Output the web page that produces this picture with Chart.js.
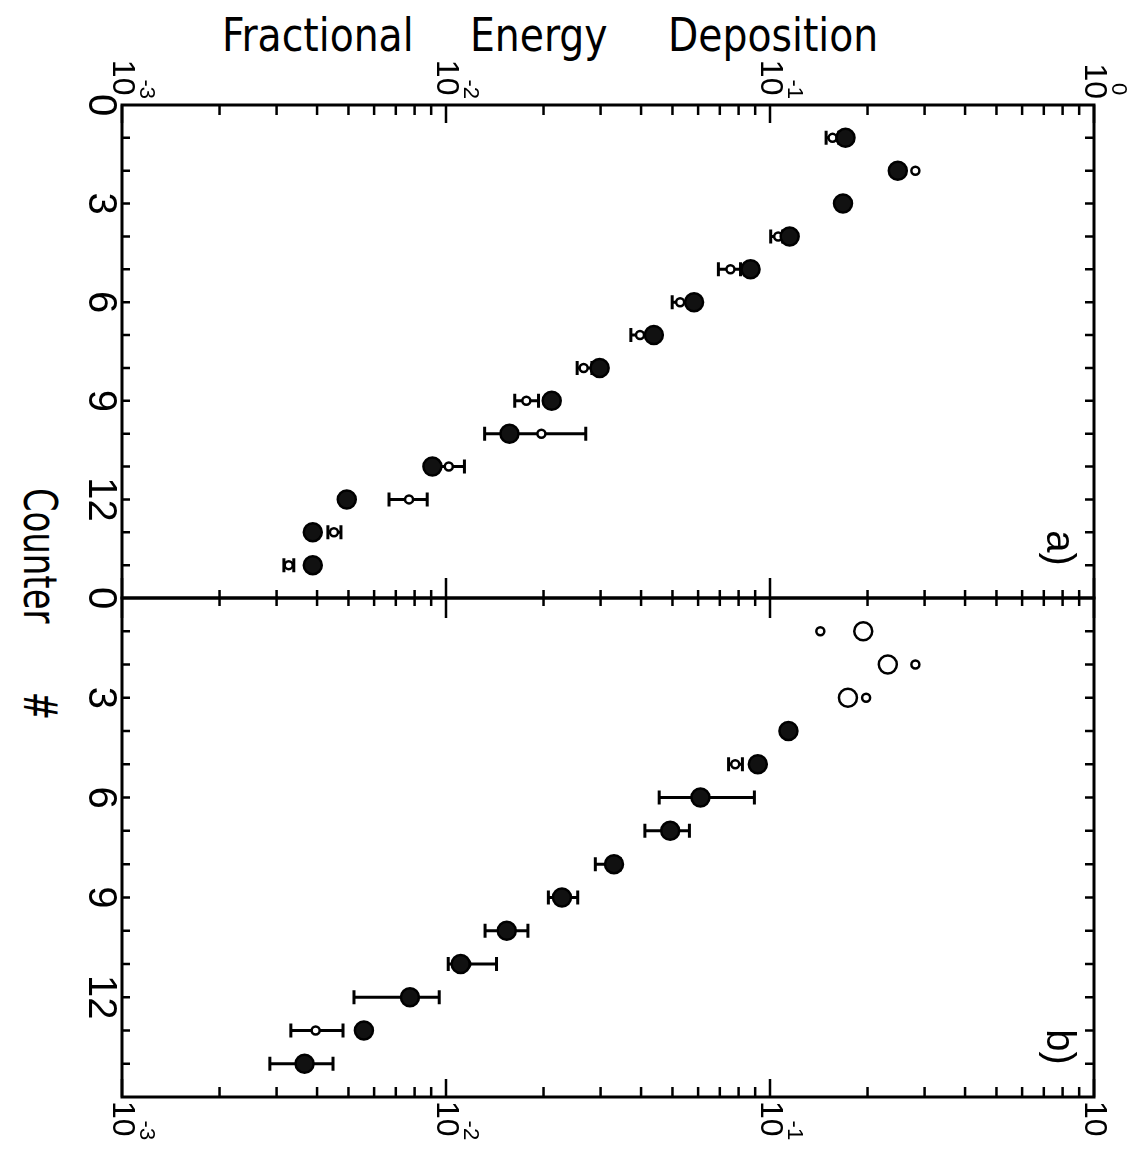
<!DOCTYPE html>
<html>
<head>
<meta charset="utf-8">
<title>Fractional Energy Deposition</title>
<script src="https://cdn.jsdelivr.net/npm/chart.js@4.4.1/dist/chart.umd.min.js"></script>
<style>
  html, body { margin: 0; padding: 0; background: #fff; }
  #wrap { position: relative; width: 1134px; height: 1150px; overflow: hidden; }
  #wrap canvas { position: absolute; left: 0; }
  .ttl { position: absolute; top: 12px; font: 46px/46px 'Liberation Sans Narrow', 'DejaVu Sans Condensed', sans-serif;
         color: #000; white-space: pre; transform-origin: 0 50%; transform: scaleX(0.95); }
  #ylab { position: absolute; left: 40px; top: 604px; transform: translate(-50%, -50%) rotate(90deg) scaleX(0.82);
          font: 46px/46px 'Liberation Sans Narrow', 'DejaVu Sans Condensed', sans-serif; color: #000;
          white-space: pre; word-spacing: 70px; }
</style>
</head>
<body>
<div id="wrap">
  <span class="ttl" style="left:222px">Fractional</span>
  <span class="ttl" style="left:470px">Energy</span>
  <span class="ttl" style="left:668px">Deposition</span>
  <div id="ylab">Counter #</div>
  <canvas id="chartA" width="1134" height="620" style="top:0"></canvas>
  <canvas id="chartB" width="1134" height="572" style="top:578px"></canvas>
</div>
<script>
// counter numbers (vertical axis)
const counters = [1, 2, 3, 4, 5, 6, 7, 8, 9, 10, 11, 12, 13, 14];
const counterLabels = [0, 3, 6, 9, 12];

// energy axis (log) decades and exponent labels
const decades = [0.001, 0.01, 0.1, 1];
const expTop = ['-3', '-2', '-1', '0'];
const expBottom = ['-3', '-2', '-1', ''];

// panel a)
const aCircle = [0.171, 0.248, 0.168, 0.115, 0.0871, 0.0583, 0.0438, 0.0298, 0.0212, 0.0157, 0.00908, 0.00494, 0.00388, 0.00388];
const aSmall = [0.156, 0.281, 0.172, 0.106, 0.0755, 0.0528, 0.0397, 0.0266, 0.0177, 0.0197, 0.0102, 0.00769, 0.00451, 0.00327];
const aSmallLo = [0.149, null, null, 0.1005, 0.0693, 0.0499, 0.0372, 0.0254, 0.0163, 0.01316, 0.00933, 0.00667, 0.00432, 0.00316];
const aSmallHi = [0.163, null, null, 0.1094, 0.0811, 0.0560, 0.0427, 0.0282, 0.0193, 0.0270, 0.0114, 0.00875, 0.00474, 0.00339];

// panel b)
const bCircle = [0.194, 0.231, 0.174, 0.114, 0.0917, 0.0610, 0.0492, 0.0330, 0.0228, 0.0154, 0.0111, 0.00774, 0.00558, 0.00366];
const bSmall = [0.143, 0.281, 0.198, 0.114, 0.0781, 0.0618, 0.0492, 0.0330, 0.0228, 0.0154, 0.01156, 0.00774, 0.00396, 0.00357];
const bSmallLo = [null, null, null, null, 0.0745, 0.0455, 0.0411, 0.0289, 0.0207, 0.0132, 0.01016, 0.0052, 0.00332, 0.00286];
const bSmallHi = [null, null, null, null, 0.0822, 0.0895, 0.0564, 0.0345, 0.0255, 0.0179, 0.01432, 0.00953, 0.00481, 0.00448];

const FONT = '"Liberation Sans", Arial, sans-serif';

function pts(vals) {
  return vals.map((v, i) => ({ x: v, y: counters[i] }));
}

// text rotated 90deg clockwise, like the scanned figure
function rotText(ctx, str, x, y, align, font) {
  ctx.save();
  ctx.translate(x, y);
  ctx.rotate(Math.PI / 2);
  ctx.font = font;
  ctx.textAlign = align;
  ctx.textBaseline = 'middle';
  ctx.fillText(str, 0, 0);
  ctx.restore();
}

// "10" with a raised exponent, rotated clockwise
function powLabel(ctx, exp, px, py, atTop) {
  const big = '32px ' + FONT, small = '22px ' + FONT;
  ctx.save();
  ctx.translate(px, py);
  ctx.rotate(Math.PI / 2);
  ctx.font = big;
  const wb = ctx.measureText('10').width;
  ctx.font = small;
  const we = exp ? ctx.measureText(exp).width : 0;
  const expStart = wb * 0.55;
  const total = Math.max(wb, expStart + we);
  const start = atTop ? -total : 0;
  ctx.textAlign = 'left';
  ctx.textBaseline = 'middle';
  ctx.font = big;
  ctx.fillText('10', start, 0);
  if (exp) {
    ctx.font = small;
    ctx.fillText(exp, start + expStart, -24);
  }
  ctx.restore();
}

const framePlugin = {
  id: 'frame',
  beforeDatasetsDraw(chart) {
    // horizontal error bars
    const { ctx, scales: { x, y } } = chart;
    ctx.save();
    ctx.strokeStyle = '#000';
    ctx.lineWidth = 3;
    chart.data.datasets.forEach(ds => {
      if (!ds.errLo) return;
      ds.errLo.forEach((lo, i) => {
        const hi = ds.errHi[i];
        if (lo == null || hi == null) return;
        const py = y.getPixelForValue(ds.data[i].y);
        const x1 = x.getPixelForValue(lo), x2 = x.getPixelForValue(hi);
        ctx.beginPath();
        ctx.moveTo(x1, py); ctx.lineTo(x2, py);
        ctx.moveTo(x1, py - 7); ctx.lineTo(x1, py + 7);
        ctx.moveTo(x2, py - 7); ctx.lineTo(x2, py + 7);
        ctx.stroke();
      });
    });
    ctx.restore();
  },
  afterDraw(chart, args, opts) {
    const { ctx, chartArea: a, scales: { x, y } } = chart;
    const top = opts.labelsAt === 'top';
    ctx.save();
    ctx.strokeStyle = '#000';
    ctx.fillStyle = '#000';
    ctx.lineWidth = 3;
    ctx.strokeRect(a.left, a.top, a.right - a.left, a.bottom - a.top);

    // log ticks on the energy axis
    ctx.lineWidth = 2.5;
    ctx.beginPath();
    decades.forEach(d => {
      for (let m = 1; m <= 9; m++) {
        const v = d * m;
        if (v > 1.0001) break;
        const px = x.getPixelForValue(v);
        const major = m === 1;
        const outerLen = major ? 18 : 10;
        const midLen = major ? 20 : 8;
        if (top) {
          ctx.moveTo(px, a.top); ctx.lineTo(px, a.top + outerLen);
          ctx.moveTo(px, a.bottom); ctx.lineTo(px, a.bottom - midLen);
        } else {
          ctx.moveTo(px, a.bottom); ctx.lineTo(px, a.bottom - outerLen);
          ctx.moveTo(px, a.top); ctx.lineTo(px, a.top + midLen);
        }
      }
    });
    // counter ticks, left and right
    counters.forEach(c => {
      const py = y.getPixelForValue(c);
      ctx.moveTo(a.left, py); ctx.lineTo(a.left + 8, py);
      ctx.moveTo(a.right, py); ctx.lineTo(a.right - 9, py);
    });
    ctx.stroke();

    // counter labels
    counterLabels.forEach(c => {
      rotText(ctx, String(c), 100, y.getPixelForValue(c), 'center', '40px ' + FONT);
    });

    // decade labels
    const exps = top ? expTop : expBottom;
    decades.forEach((d, i) => {
      const px = x.getPixelForValue(d);
      if (top) powLabel(ctx, exps[i], px, a.top - 6, true);
      else powLabel(ctx, exps[i], px, a.bottom + 4, false);
    });

    // panel tag
    rotText(ctx, opts.tag, a.right - 36, a.bottom - 50, 'center', '40px ' + FONT);
    ctx.restore();
  }
};

function makePanel(id, circles, small, lo, hi, padding, labelsAt, tag, openCircles) {
  const fills = circles.map((v, i) => openCircles.includes(i) ? '#fff' : '#111');
  return new Chart(document.getElementById(id), {
    type: 'scatter',
    data: {
      datasets: [
        {
          label: 'circle',
          data: pts(circles),
          pointStyle: 'circle',
          pointRadius: 9,
          pointBackgroundColor: fills,
          pointBorderColor: '#000',
          pointBorderWidth: 2.5,
          order: 1
        },
        {
          label: 'small',
          data: pts(small),
          errLo: lo,
          errHi: hi,
          pointStyle: 'circle',
          pointRadius: 4,
          pointBackgroundColor: '#fff',
          pointBorderColor: '#000',
          pointBorderWidth: 2.5,
          order: 2
        }
      ]
    },
    options: {
      responsive: false,
      animation: false,
      devicePixelRatio: 1,
      events: [],
      layout: { padding: padding },
      scales: {
        x: { type: 'logarithmic', min: 0.001, max: 1, display: false },
        y: { type: 'linear', min: 0, max: 15, reverse: true, display: false }
      },
      plugins: {
        legend: { display: false },
        tooltip: { enabled: false },
        frame: { labelsAt: labelsAt, tag: tag }
      }
    },
    plugins: [framePlugin]
  });
}

makePanel('chartA', aCircle, aSmall, aSmallLo, aSmallHi,
  { top: 105, bottom: 22, left: 122, right: 40 }, 'top', 'a)', []);
makePanel('chartB', bCircle, bSmall, bSmallLo, bSmallHi,
  { top: 20, bottom: 53, left: 122, right: 40 }, 'bottom', 'b)', [0, 1, 2]);
</script>
</body>
</html>
